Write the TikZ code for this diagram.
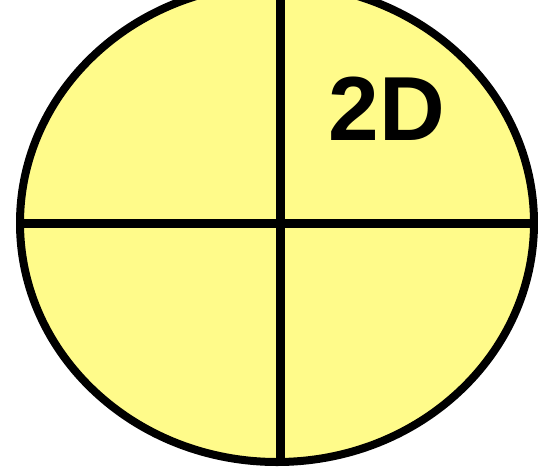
\documentclass[tikz,border=0pt]{standalone}
\usepackage{fontspec}
\setmainfont{Liberation Sans}
\definecolor{paleyellow}{HTML}{FFFB8A}
\begin{document}
\begin{tikzpicture}[x=1pt,y=-1pt,line cap=round,line join=round]
  \useasboundingbox (0,0) rectangle (538,469);
  \clip (0,0) rectangle (538,469);

  % ellipse filled
  \fill[paleyellow] (277,223) ellipse [x radius=257, y radius=239];

  % the two axes, kept inside the ellipse
  \begin{scope}
    \clip (277,223) ellipse [x radius=257, y radius=239];
    \draw[line width=9pt,line cap=butt] (280,-20) -- (280,470);
    \draw[line width=9pt,line cap=butt] (10,223) -- (540,223);
  \end{scope}

  % outline
  \draw[line width=8pt] (277,223) ellipse [x radius=257, y radius=239];

  % label
  \node[anchor=base,inner sep=0pt,font=\bfseries\fontsize{91}{100}\selectfont] (dim) at (387,140) {2D};
\end{tikzpicture}
\end{document}
